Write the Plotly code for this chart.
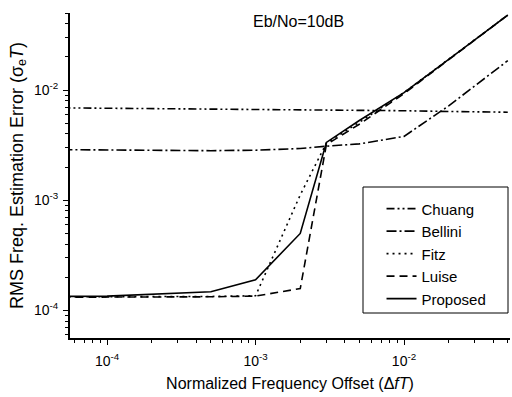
import plotly.graph_objects as go

# Normalized frequency offset (ΔfT) and RMS estimation error per estimator
offset = [5e-5, 1e-4, 5e-4, 1e-3, 2e-3, 3e-3, 5e-3, 1e-2, 2e-2, 5e-2]

chuang = [6.9e-3, 6.85e-3, 6.8e-3, 6.75e-3, 6.7e-3, 6.65e-3, 6.6e-3, 6.5e-3, 6.4e-3, 6.3e-3]
bellini = [2.88e-3, 2.86e-3, 2.82e-3, 2.85e-3, 2.95e-3, 3.1e-3, 3.25e-3, 3.8e-3, 7.2e-3, 1.85e-2]
fitz = [1.33e-4, 1.33e-4, 1.34e-4, 1.36e-4, 1.12e-3, 3.3e-3, 5.1e-3, 9.5e-3, 1.9e-2, 4.8e-2]
luise = [1.32e-4, 1.32e-4, 1.33e-4, 1.35e-4, 1.58e-4, 3.2e-3, 4.9e-3, 9.3e-3, 1.9e-2, 4.8e-2]
proposed = [1.34e-4, 1.35e-4, 1.48e-4, 1.9e-4, 5.0e-4, 3.35e-3, 5.3e-3, 9.5e-3, 1.9e-2, 4.8e-2]

series_names = ["Chuang", "Bellini", "Fitz", "Luise", "Proposed"]
series_values = [chuang, bellini, fitz, luise, proposed]
series_dash = [
    "8px,3px,2px,3px,2px,3px",
    "10px,3px,2px,3px",
    "2px,4px",
    "8px,5px",
    "solid",
]

x_major = [1e-4, 1e-3, 1e-2]
x_major_text = ["10<sup>-4</sup>", "10<sup>-3</sup>", "10<sup>-2</sup>"]
y_major = [1e-4, 1e-3, 1e-2]
y_major_text = ["10<sup>-4</sup>", "10<sup>-3</sup>", "10<sup>-2</sup>"]

minor_vals = [m * 10.0 ** e for e in range(-5, -1) for m in range(2, 10)]

FONT = "Liberation Sans, Arial, Helvetica, sans-serif"

fig = go.Figure()
for name, vals, dash in zip(series_names, series_values, series_dash):
    fig.add_trace(go.Scatter(
        x=offset, y=vals, name=name, mode="lines",
        line=dict(color="black", width=1.6, dash=dash),
    ))

axis_common = dict(
    type="log",
    showgrid=False,
    zeroline=False,
    showline=True,
    linecolor="black",
    linewidth=2,
    ticks="outside",
    ticklen=5,
    tickwidth=1,
    tickcolor="black",
    tickmode="array",
    tickfont=dict(size=14, color="black", family=FONT),
    minor=dict(tickmode="array", tickvals=minor_vals, ticks="outside",
               ticklen=3, tickwidth=1, tickcolor="black"),
    mirror=False,
)

fig.update_layout(
    width=512, height=397,
    margin=dict(l=70, r=2, t=13, b=59),
    paper_bgcolor="white",
    plot_bgcolor="white",
    font=dict(family=FONT, color="black", size=16),
    showlegend=True,
    legend=dict(
        x=0.708, y=0.448, xanchor="left", yanchor="top",
        bgcolor="rgba(0,0,0,0)", borderwidth=0,
        font=dict(size=15, family=FONT, color="black"),
        tracegroupgap=0,
    ),
    xaxis=dict(
        axis_common,
        range=[-4.25, -1.286],
        tickvals=x_major, ticktext=x_major_text,
        ticklabelstandoff=4,
        title=dict(text="Normalized Frequency Offset (Δ<i>fT</i>)",
                   font=dict(size=16, family=FONT), standoff=10),
    ),
    yaxis=dict(
        axis_common,
        range=[-4.25, -1.30],
        tickvals=y_major, ticktext=y_major_text,
        ticklabelstandoff=2,
        title=dict(text="RMS Freq. Estimation Error (σ<sub>e</sub><i>T</i>)",
                   font=dict(size=18, family=FONT), standoff=6),
    ),
    annotations=[dict(
        text="Eb/No=10dB", x=0.52, y=0.975, xref="paper", yref="paper",
        xanchor="center", yanchor="middle", showarrow=False,
        font=dict(size=16, family=FONT, color="black"),
    )],
    shapes=[dict(
        type="rect", xref="paper", yref="paper",
        x0=(363 - 70) / 440, x1=(508 - 70) / 440,
        y0=(338 - 313) / 325, y1=(338 - 187) / 325,
        line=dict(color="black", width=1), fillcolor="white", layer="below",
    )],
)

fig.write_html("out.html")
